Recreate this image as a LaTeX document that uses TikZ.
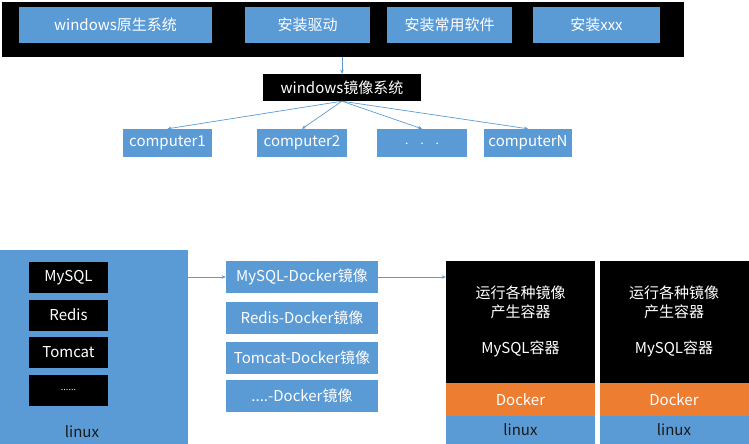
\documentclass[tikz,border=0pt]{standalone}
\usepackage{fontspec}
\setmainfont{Noto Sans CJK SC}
\usetikzlibrary{arrows.meta}
\definecolor{office-blue}{HTML}{5B9BD5}
\definecolor{office-orange}{HTML}{ED7D31}
\tikzset{
    wh/.style 2 args = {minimum width=#1pt, minimum height=#2pt},
    blue-box/.style = {fill=office-blue, text=white, inner sep=0pt, font=\fontsize{15}{19}\selectfont},
    black-box/.style = {fill=black, text=white, inner sep=0pt, font=\fontsize{15}{19}\selectfont},
    orange-box/.style = {fill=office-orange, text=white, inner sep=0pt, font=\fontsize{15}{19}\selectfont},
    label-text/.style = {inner sep=0pt, align=center, font=\fontsize{15}{19}\selectfont},
    link/.style = {draw=office-blue, line width=0.7pt, -{Stealth[length=4pt,width=3.5pt]}},
}
\begin{document}
\begin{tikzpicture}[x=1pt,y=-1pt]
\useasboundingbox (0,0) rectangle (749,444);
% windows side
\node[black-box, wh={682}{55}] (bar) at (343,29.5) {};
\node[blue-box, wh={193}{36}] (win-orig) at (115.5,25) {windows原生系统};
\node[blue-box, wh={125}{36}] (driver) at (307.5,25) {安装驱动};
\node[blue-box, wh={125}{36}] (software) at (449.5,25) {安装常用软件};
\node[blue-box, wh={127}{36}] (xxx) at (596.5,25) {安装xxx};
\node[black-box, wh={158}{27}] (win-image) at (342,87.5) {windows镜像系统};
\node[blue-box, wh={89}{28}] (pc1) at (167.5,143) {computer1};
\node[blue-box, wh={90}{28}] (pc2) at (302,143) {computer2};
\node[blue-box, wh={90}{28}] (pc-dots) at (422,143) {\raisebox{-3pt}{\fontsize{12}{12}\selectfont .\hspace{12pt}.\hspace{12pt}.}};
\node[blue-box, wh={88}{28}] (pcN) at (528,143) {computerN};
\draw[link] (bar.south -| win-image) -- (win-image.north);
\foreach \pc in {pc1,pc2,pc-dots,pcN}
    \draw[link] (win-image.south) -- (\pc.north);
% docker side
\node[blue-box, wh={188}{194}] (host) at (94,347) {};
\node[label-text, text=black!90] (host-label) at (82,432) {linux};
\node[black-box, wh={79}{31}] (app-mysql) at (68.5,277.5) {MySQL};
\node[black-box, wh={79}{31}] (app-redis) at (68.5,315) {Redis};
\node[black-box, wh={79}{31}] (app-tomcat) at (68.5,352.5) {Tomcat};
\node[black-box, wh={79}{31}] (app-dots) at (68.5,390) {\fontsize{9}{9}\selectfont ......};
\node[blue-box, wh={152}{32}] (img-mysql) at (302,277) {MySQL-Docker镜像};
\node[blue-box, wh={152}{32}] (img-redis) at (302,318) {Redis-Docker镜像};
\node[blue-box, wh={152}{32}] (img-tomcat) at (302,357.5) {Tomcat-Docker镜像};
\node[blue-box, wh={152}{32}] (img-dots) at (302,396) {....-Docker镜像};
\foreach \i/\x in {1/520.5,2/674}{
    \node[black-box, wh={149}{122}] (run\i) at (\x,322) {};
    \node[label-text, text=white] (run\i-text) at (\x,302) {运行各种镜像\\产生容器};
    \node[label-text, text=white] (run\i-mysql) at (\x,349) {MySQL容器};
    \node[orange-box, wh={149}{33}] (docker\i) at (\x,399.5) {Docker};
    \node[blue-box, text=black!90, wh={149}{28}] (linux\i) at (\x,430) {linux};
}
\draw[link] (host.east |- img-mysql) -- (img-mysql.west);
\draw[link] (img-mysql.east) -- (img-mysql.east -| run1.west);
\end{tikzpicture}
\end{document}
